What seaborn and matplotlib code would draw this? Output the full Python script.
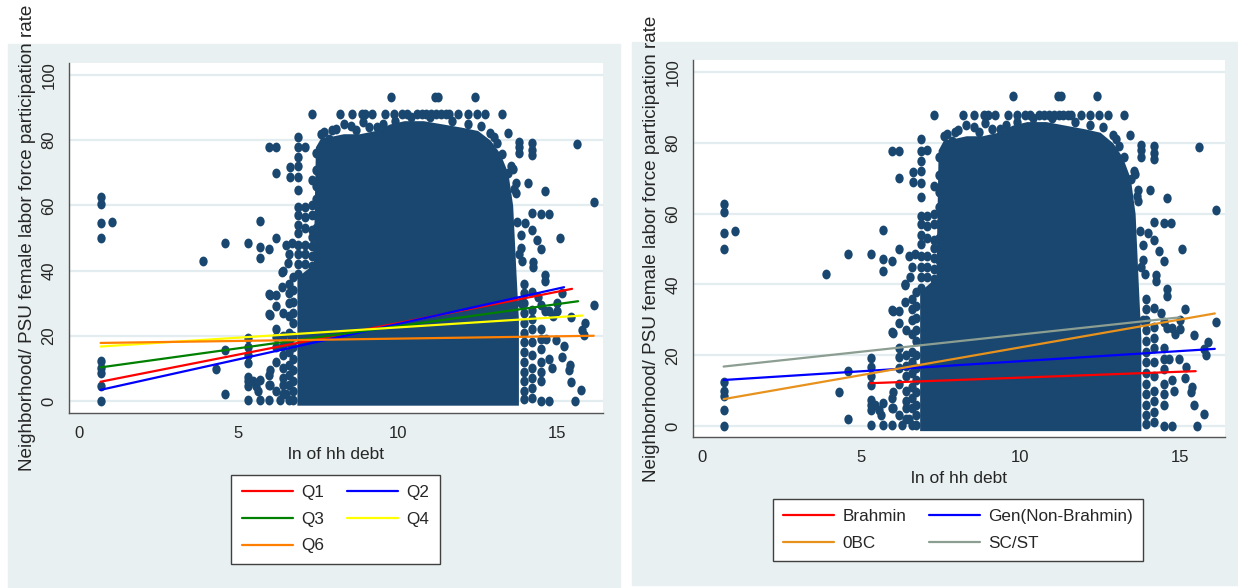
import numpy as np
import pandas as pd
import matplotlib
matplotlib.use("Agg")
import matplotlib.pyplot as plt
from matplotlib.patches import Rectangle
from matplotlib.lines import Line2D
from matplotlib.path import Path
from matplotlib.transforms import Affine2D
import seaborn as sns

# scattered observations: ln of hh debt vs PSU female LFP rate
pts_x = [0.69, 0.69, 0.69, 0.69, 0.69, 0.69, 0.69, 0.69, 0.69, 1.06, 3.91,
         4.30, 4.59, 4.59, 4.59,
         5.30, 5.30, 5.30, 5.30, 5.30, 5.30, 5.30, 5.30, 5.30,
         5.45, 5.55, 5.62, 5.68, 5.68, 5.68, 5.68, 5.68,
         5.98, 6.20, 6.20, 5.98, 6.20, 5.98, 5.98, 5.98, 5.98, 5.98,
         6.37, 6.37, 6.60, 6.55, 6.50, 6.68, 6.39, 6.62, 6.62,
         6.20, 6.50, 6.30,
         8.19, 8.56, 8.87, 8.98, 9.20, 9.60, 9.88, 10.13, 10.30, 10.60, 10.75,
         10.90, 11.05, 11.20, 11.35, 11.50, 11.60, 11.90, 12.20, 12.48, 12.74, 13.26,
         9.78, 11.17, 11.27, 12.42,
         7.70, 8.30, 8.55, 8.90, 9.10, 9.55, 7.95,
         7.60, 7.85, 8.05, 8.70, 9.35, 9.90, 10.40, 11.00, 11.70, 12.20, 12.60, 13.00,
         13.55, 13.65, 13.75, 13.80, 13.85,
         7.45, 7.45, 7.45, 7.45, 7.45, 7.45, 7.45,
         12.90, 13.44, 13.10, 13.26, 13.12, 13.46,
         13.80, 13.80, 13.80, 14.20, 14.20, 14.20,
         13.60, 13.70, 13.70, 14.07, 14.60, 14.50, 14.73,
         14.20, 14.00, 14.20, 14.35, 14.50,
         13.85, 13.85, 13.90, 14.25, 14.25, 14.60, 14.60,
         15.07, 15.62, 16.14,
         14.40, 14.60, 14.75, 14.85,
         14.65, 14.75, 14.82, 14.97, 15.20, 15.15,
         15.40, 15.35, 15.44, 15.75, 15.54,
         14.75, 14.50,
         15.88, 15.77, 15.83, 15.44, 16.14,
         15.00, 15.00, 15.15]
pts_y = [62.7, 60.4, 54.5, 49.9, 12.4, 10.0, 8.5, 4.6, 0.1, 55.0, 42.9,
         9.7, 48.5, 15.6, 2.1,
         48.5, 19.2, 16.7, 14.1, 11.6, 7.4, 6.0, 4.6, 0.2,
         6.0, 4.5, 3.0, 6.5, 0.2, 55.3, 47.1, 43.8,
         77.8, 77.8, 70.0, 46.6, 49.9, 32.7, 26.6, 8.0, 5.0, 0.2,
         39.7, 35.0, 45.0, 42.2, 47.9, 48.6, 40.0, 71.9, 68.8,
         3.0, 2.0, 0.2,
         88, 88, 88, 88, 88, 88, 88, 88, 88, 88, 88,
         88, 88, 88, 88, 88, 88, 88, 88, 88, 88, 88,
         93.2, 93.2, 93.2, 93.2,
         82.5, 85.0, 84.5, 85.5, 84.0, 85.0, 83.0,
         82.0, 80.5, 83.5, 83.0, 84.0, 86.0, 87.0, 87.0, 86.0, 85.0, 84.5, 81.0,
         72.0, 65.0, 55.0, 45.0, 30.0,
         76.0, 71.0, 66.0, 62.0, 57.0, 53.0, 47.0,
         82.1, 82.1, 79.0, 75.9, 73.6, 69.8,
         79.5, 78.0, 76.0, 79.0, 77.0, 75.5,
         71.3, 66.8, 63.7, 66.8, 64.4, 57.3, 57.3,
         57.6, 54.6, 52.5, 49.5, 46.5,
         51.0, 47.0, 43.0, 42.6, 41.0, 38.7, 36.7,
         50.0, 78.8, 61.1,
         31.8, 27.6, 27.6, 26.1,
         19.0, 13.0, 10.0, 18.8, 16.8, 13.6,
         11.0, 9.5, 5.9, 3.4, 0.0,
         0.0, 0.0,
         23.8, 21.8, 20.2, 25.8, 29.4,
         30.0, 27.5, 33.0]

# columns of stacked observations sharing one debt value
col_x = [6.0, 6.2, 6.4, 6.6, 6.72, 6.88, 7.08, 7.3, 13.95, 14.2, 14.5]
col_y = [
    [32.5, 26.4, 9.5, 5.0],
    [32.5, 29.0, 22.0, 19.5, 16.5, 12.0],
    [27.0, 20.0, 17.0, 14.0, 10.0, 7.0, 5.0, 2.0],
    [36.0, 33.0, 30.0, 26.0, 21.0, 18.0, 15.0, 11.0, 8.0, 5.0, 0.2],
    [38.0, 34.0, 30.5, 27.0, 24.0, 20.0, 16.5, 13.0, 9.5, 6.0, 3.0, 0.2],
    [81.0, 77.8, 75.0, 72.0, 68.7, 64.7, 59.4, 57.0, 54.0, 51.5, 48.0, 45.0,
     42.0, 39.0],
    [78.0, 59.4, 56.5, 53.0, 48.0, 45.0, 42.0],
    [88.0, 67.8, 60.0, 57.0, 52.5, 50.4, 47.5, 44.5, 41.5],
    [36.0, 33.0, 30.0, 27.0, 24.0, 21.0, 18.0, 15.0, 12.0, 9.0, 6.0, 3.0, 0.5],
    [33.3, 28.0, 25.0, 22.0, 18.0, 14.0, 10.0, 7.0, 4.0, 1.0],
    [29.5, 22.0, 19.0, 16.0, 12.0, 9.0, 6.0],
]

# solid block of overlapping points: upper edge of the block
core_x = [6.84, 7.35, 7.42, 7.6, 7.8, 8.3, 8.8, 9.3, 9.75, 10.2, 10.8, 11.4,
          12.0, 12.5, 12.9, 13.2, 13.45, 13.6, 13.7, 13.78]
core_top = [38, 42, 78, 81, 81, 82, 82, 83, 85, 86, 86, 85,
            84, 83, 80, 76, 70, 60, 40, 25]
core_bottom = -1.3

# linear fits, left panel
q_groups = ["Q1", "Q2", "Q3", "Q4", "Q6"]
q_x0 = [0.69, 0.69, 0.69, 0.69, 0.69]
q_x1 = [15.46, 15.21, 15.65, 15.78, 16.14]
q_y0 = [5.9, 3.4, 10.3, 16.7, 17.8]
q_y1 = [34.4, 34.9, 30.6, 26.2, 20.0]
q_colors = ["#ff0000", "#0000ff", "#008000", "#ffff00", "#ff7f00"]

# linear fits, right panel
c_groups = ["Brahmin", "Gen(Non-Brahmin)", "0BC", "SC/ST"]
c_x0 = [5.29, 0.69, 0.69, 0.69]
c_x1 = [15.50, 16.10, 16.10, 15.00]
c_y0 = [12.1, 13.0, 7.6, 16.8]
c_y1 = [15.5, 21.8, 31.8, 30.7]
c_colors = ["#ff0000", "#0000ff", "#e8921e", "#8c9e92"]

navy = "#1a476f"
bg = "#e8f0f2"
grid_c = "#e3ecef"
axis_c = "#555555"

sns.set_style("white")
plt.rcParams["font.family"] = ["Liberation Sans", "DejaVu Sans"]

all_x = pts_x + [x for x, ys in zip(col_x, col_y) for _ in ys]
all_y = pts_y + [y for ys in col_y for y in ys]
cloud = pd.DataFrame({"debt": all_x, "lfp": all_y})

# the source graph is slightly squeezed sideways, so are its dots
dot = Path.unit_circle().transformed(Affine2D().scale(0.85, 1.0))

W, H = 1238, 588
fig = plt.figure(figsize=(W / 100, H / 100), dpi=100)
fig.patches.append(Rectangle((8 / W, 0), (620 - 8) / W, 1 - 44 / H,
                             transform=fig.transFigure, color=bg, zorder=-10))
fig.patches.append(Rectangle((632 / W, 3 / H), (W - 632) / W, (585 - 42) / H,
                             transform=fig.transFigure, color=bg, zorder=-10))


def panel(rect, xlim, ylim, groups, x0, x1, y0, y1, colors, leg_anchor, order):
    ax = fig.add_axes(rect)
    ax.set_facecolor("white")
    for t in [0, 20, 40, 60, 80, 100]:
        ax.axhline(t, color=grid_c, lw=1.6, zorder=0)

    ax.fill_between(core_x, core_bottom, core_top, color=navy, lw=0, zorder=2)
    sns.scatterplot(data=cloud, x="debt", y="lfp", ax=ax, color=navy, s=50,
                    marker=dot, linewidth=0, zorder=3)

    fits = pd.DataFrame({
        "group": groups + groups,
        "x": x0 + x1,
        "y": y0 + y1,
    })
    sns.lineplot(data=fits, x="x", y="y", hue="group", hue_order=groups,
                 palette=dict(zip(groups, colors)), estimator=None, sort=True,
                 lw=1.6, legend=False, ax=ax, zorder=4)

    ax.set_xlim(*xlim)
    ax.set_ylim(*ylim)
    ax.set_xticks([0, 5, 10, 15])
    ax.set_yticks([0, 20, 40, 60, 80, 100])
    for s in ["top", "right"]:
        ax.spines[s].set_visible(False)
    for s in ["left", "bottom"]:
        ax.spines[s].set_color(axis_c)
        ax.spines[s].set_linewidth(1.0)
    ax.tick_params(axis="both", direction="out", length=5, width=1,
                   color=axis_c, pad=4)
    ax.tick_params(axis="y", labelrotation=90)
    for lab in ax.get_yticklabels():
        lab.set_va("center")
        lab.set_fontsize(12)
    for lab in ax.get_xticklabels():
        lab.set_fontsize(12)
    ax.set_xlabel("ln of hh debt", fontsize=12.5, labelpad=5)
    ax.set_ylabel("Neighborhood/ PSU female labor force participation rate",
                  fontsize=13.6, labelpad=4)

    handles = [Line2D([], [], color=colors[i], lw=1.6) for i in order]
    labels = [groups[i] for i in order]
    leg = fig.legend(handles, labels, loc="upper center",
                     bbox_to_anchor=leg_anchor, ncol=2, frameon=True,
                     fancybox=False, framealpha=1, edgecolor="#404040",
                     fontsize=12.3, handlelength=3.0, handletextpad=0.5,
                     columnspacing=1.3, labelspacing=0.68, borderpad=0.6,
                     borderaxespad=0)
    leg.get_frame().set_linewidth(1.0)
    return ax


panel([69 / W, 1 - 413 / H, 534 / W, 350 / H], (-0.30, 16.43), (-3.7, 103.7),
      q_groups, q_x0, q_x1, q_y0, q_y1, q_colors,
      (335.5 / W, 1 - 475 / H), [0, 2, 4, 1, 3])
panel([693 / W, 1 - 437 / H, 532 / W, 377 / H], (-0.27, 16.42), (-3.1, 103.4),
      c_groups, c_x0, c_x1, c_y0, c_y1, c_colors,
      (958 / W, 1 - 499 / H), [0, 2, 1, 3])

fig.savefig("out.png", dpi=100)
